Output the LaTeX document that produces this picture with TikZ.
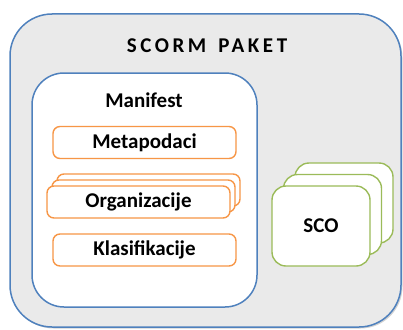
\documentclass[tikz,border=0pt]{standalone}
\usepackage{fontspec}
\setmainfont{Carlito}
\usetikzlibrary{shadows}
\definecolor{obBlue}{HTML}{4F81BD}
\definecolor{obOrange}{HTML}{F79646}
\definecolor{obGreen}{HTML}{9BBB59}
\definecolor{obGray}{HTML}{EAEAEA}
\tikzset{
  lbl/.style={font=\fontsize{21}{25}\selectfont\bfseries, text=black},
  itembox/.style={draw=obOrange, line width=1.4pt, fill=white, rounded corners=7pt,
    minimum width=183pt, minimum height=32pt, inner sep=0pt},
  scobox/.style={draw=obGreen, line width=1.4pt, fill=white, rounded corners=14pt,
    minimum width=98pt, minimum height=80pt, inner sep=0pt},
}
\begin{document}
\begin{tikzpicture}[x=1pt,y=-1pt]
\useasboundingbox (0,0) rectangle (403,329);
% outer package box
\draw[obBlue, line width=1.5pt, fill=obGray, rounded corners=42pt,
  drop shadow={shadow xshift=1.5pt, shadow yshift=-1.5pt, opacity=0.35}]
  (10,14) rectangle (401,327);
\node[font=\fontsize{21}{25}\selectfont\bfseries\addfontfeature{LetterSpace=17}] (title) at (207,46) {SCORM\hspace{12pt}PAKET};
% manifest box
\draw[obBlue, line width=1.5pt, fill=white, rounded corners=32pt] (32,73) rectangle (257,307);
\node[lbl] (manifest) at (144,100) {Manifest};
% items
\node[itembox] (meta) at (144.5,142.5) {};
\node[lbl] (metat) at (meta) {Metapodaci};
\node[itembox] (org3) at (148.5,190) {};
\node[itembox] (org2) at (143.5,196) {};
\node[itembox] (org1) at (138.5,202) {};
\node[lbl] (orgt) at (org1) {Organizacije};
\node[itembox] (klas) at (144.5,250) {};
\node[lbl] (klast) at (klas) {Klasifikacije};
% SCO stack
\node[scobox] (sco3) at (344,203) {};
\node[scobox] (sco2) at (332.5,214.5) {};
\node[scobox] (sco1) at (321,226) {};
\node[lbl] (scot) at (sco1) {SCO};
\end{tikzpicture}
\end{document}
